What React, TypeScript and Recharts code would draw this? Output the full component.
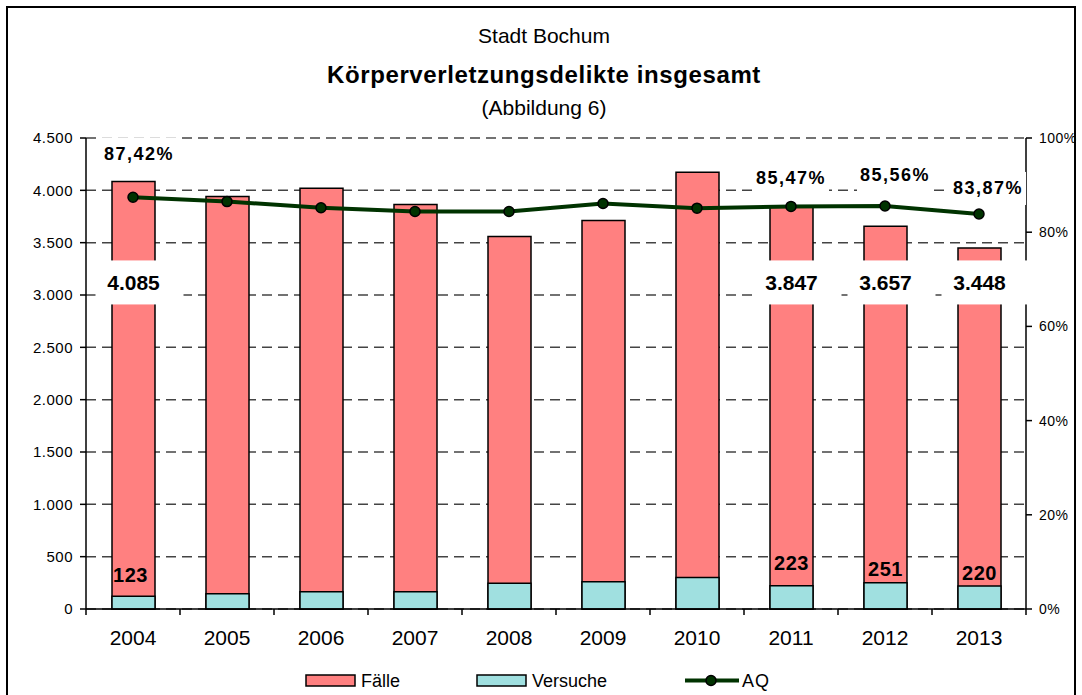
import React from 'react';
import {
  ComposedChart,
  Bar,
  Line,
  XAxis,
  YAxis,
  CartesianGrid,
  LabelList,
} from 'recharts';

const years = ['2004', '2005', '2006', '2007', '2008', '2009', '2010', '2011', '2012', '2013'];
const faelle = [4085, 3942, 4019, 3864, 3558, 3711, 4172, 3847, 3657, 3448];
const versuche = [123, 145, 165, 165, 245, 260, 300, 223, 251, 220];
const aq = [87.42, 86.5, 85.2, 84.4, 84.4, 86.1, 85.1, 85.47, 85.56, 83.87];
const labelledYears = ['2004', '2011', '2012', '2013'];
const leftTicks = [0, 500, 1000, 1500, 2000, 2500, 3000, 3500, 4000, 4500];
const rightTicks = [0, 0.2, 0.4, 0.6, 0.8, 1];

const data = years.map((year, i) => ({
  year,
  faelle: faelle[i],
  versuche: versuche[i],
  aq: aq[i] / 100,
}));

const FONT = '"Liberation Sans", Arial, sans-serif';
const RED = '#FF8080';
const CYAN = '#A0E0E0';
const GREEN = '#003300';

const de = (n: number) => n.toLocaleString('de-DE');
const pct = (n: number) => (n * 100).toFixed(2).replace('.', ',') + '%';

// vertical level (in axis units) where the big Fälle labels sit
const FAELLE_LABEL_LEVEL = 3120;
const pctOffsets: Record<number, [number, number]> = { 0: [6, -44], 7: [0, -29], 8: [10, -31], 9: [9, -26] };
const versOffsets: Record<number, [number, number]> = { 0: [-3, -21], 7: [0, -23], 8: [0, -14], 9: [0, -13] };

const box = (p: any) => p.viewBox ?? p;

const FaelleLabel = (props: any) => {
  const { index, value } = props;
  if (!labelledYears.includes(years[index])) return null;
  const vb = box(props);
  const bottom = Math.max(vb.y, vb.y + vb.height);
  const h = Math.abs(vb.height);
  const cy = bottom - h * (FAELLE_LABEL_LEVEL / value);
  const cx = vb.x + vb.width / 2;
  return (
    <g>
      <rect x={cx - 38} y={cy - 22} width={88} height={44} fill="#fff" />
      <text x={cx} y={cy} dy="0.36em" textAnchor="middle" fontFamily={FONT} fontSize={21} fontWeight="bold" fill="#000">
        {de(value)}
      </text>
    </g>
  );
};

const VersucheLabel = (props: any) => {
  const { index, value } = props;
  if (!labelledYears.includes(years[index])) return null;
  const vb = box(props);
  const top = Math.min(vb.y, vb.y + vb.height);
  const [dx, dy] = versOffsets[index] ?? [0, -18];
  return (
    <text x={vb.x + vb.width / 2 + dx} y={top + dy} dy="0.36em" textAnchor="middle" fontFamily={FONT} fontSize={20} fontWeight="bold" letterSpacing={0.5} fill="#000">
      {value}
    </text>
  );
};

const AqLabel = (props: any) => {
  const { index, value } = props;
  if (!labelledYears.includes(years[index])) return null;
  const vb = box(props);
  const [dx, dy] = pctOffsets[index] ?? [0, -30];
  const cx = vb.x + dx;
  const cy = vb.y + dy;
  return (
    <g>
      <rect x={cx - 38} y={cy - 16} width={76} height={33} fill="#fff" />
      <text x={cx} y={cy} dy="0.36em" textAnchor="middle" fontFamily={FONT} fontSize={18} fontWeight="bold" letterSpacing={1.5} fill="#000">
        {pct(value)}
      </text>
    </g>
  );
};

const YearTick = (props: any) => {
  const { x, y, payload, index, visibleTicksCount } = props;
  const half = payload?.offset || 47;
  const last = index === (visibleTicksCount ?? years.length) - 1;
  return (
    <g>
      <line x1={x - half} x2={x - half} y1={y} y2={y + 6} stroke="#000" strokeWidth={1.5} />
      {last && <line x1={x + half} x2={x + half} y1={y} y2={y + 6} stroke="#000" strokeWidth={1.5} />}
      <text x={x} y={y + 36} textAnchor="middle" fontFamily={FONT} fontSize={21} fill="#000">
        {payload.value}
      </text>
    </g>
  );
};

function Overlay() {
  return (
    <svg width={1082} height={695} style={{ position: 'absolute', left: 0, top: 0, pointerEvents: 'none' }}>
      <g fontFamily={FONT} fill="#000" textAnchor="middle">
        <text x={544} y={43} fontSize={21}>Stadt Bochum</text>
        <text x={544} y={83} fontSize={24} fontWeight="bold" letterSpacing={0.6}>Körperverletzungsdelikte insgesamt</text>
        <text x={544} y={115} fontSize={21}>(Abbildung 6)</text>
      </g>
      <g fontFamily={FONT} fontSize={18} fill="#000">
        <rect x={306} y={675} width={49} height={11} fill={RED} stroke="#000" strokeWidth={1.5} />
        <text x={361} y={687}>Fälle</text>
        <rect x={477} y={675} width={49} height={11} fill={CYAN} stroke="#000" strokeWidth={1.5} />
        <text x={532} y={687}>Versuche</text>
        <line x1={685} x2={739} y1={680.5} y2={680.5} stroke={GREEN} strokeWidth={4} />
        <circle cx={711} cy={680.5} r={5} fill={GREEN} stroke="#000" strokeWidth={1.5} />
        <text x={742} y={687} letterSpacing={1}>AQ</text>
      </g>
    </svg>
  );
}

export default function App() {
  return (
    <div style={{ position: 'absolute', left: 0, top: 0, width: 1082, height: 695, overflow: 'hidden', background: '#fff' }}>
      <div style={{ position: 'absolute', left: 6, top: 6, width: 1070, height: 760, border: '2px solid #000', boxSizing: 'border-box' }} />
      <ComposedChart width={1082} height={695} data={data} margin={{ top: 138, right: 0, bottom: 36, left: 26 }}>
        <CartesianGrid yAxisId="left" xAxisId="main" vertical={false} stroke="#444" strokeWidth={1.5} strokeDasharray="10 6" />
        <XAxis
          xAxisId="main"
          dataKey="year"
          height={50}
          tickSize={0}
          tickMargin={0}
          tickLine={false}
          axisLine={{ stroke: '#000', strokeWidth: 1.5 }}
          tick={<YearTick />}
          interval={0}
        />
        <XAxis xAxisId="vers" dataKey="year" hide />
        <YAxis
          yAxisId="left"
          orientation="left"
          width={60}
          domain={[0, 4500]}
          ticks={leftTicks}
          interval={0}
          tickFormatter={de}
          tickSize={6}
          tickMargin={7}
          tickLine={{ stroke: '#000', strokeWidth: 1.5 }}
          axisLine={{ stroke: '#000', strokeWidth: 1.5 }}
          tick={{ fill: '#000', fontSize: 15, fontFamily: FONT, letterSpacing: 0.5 }}
        />
        <YAxis
          yAxisId="right"
          orientation="right"
          width={56}
          domain={[0, 1]}
          ticks={rightTicks}
          interval={0}
          tickFormatter={(v: number) => Math.round(v * 100) + '%'}
          tickSize={6}
          tickMargin={7}
          tickLine={{ stroke: '#000', strokeWidth: 1.5 }}
          axisLine={{ stroke: '#000', strokeWidth: 1.5 }}
          tick={{ fill: '#000', fontSize: 14, fontFamily: FONT, letterSpacing: 0.5 }}
        />
        <Bar xAxisId="main" yAxisId="left" dataKey="faelle" name="Fälle" fill={RED} stroke="#000" strokeWidth={1.5} barSize={43} isAnimationActive={false}>
          <LabelList dataKey="faelle" content={FaelleLabel} />
        </Bar>
        <Bar xAxisId="vers" yAxisId="left" dataKey="versuche" name="Versuche" fill={CYAN} stroke="#000" strokeWidth={1.5} barSize={43} isAnimationActive={false}>
          <LabelList dataKey="versuche" content={VersucheLabel} />
        </Bar>
        <Line
          xAxisId="main"
          yAxisId="right"
          dataKey="aq"
          name="AQ"
          type="linear"
          stroke={GREEN}
          strokeWidth={4}
          dot={{ r: 5, fill: GREEN, stroke: '#000', strokeWidth: 1.5 }}
          isAnimationActive={false}
        >
          <LabelList dataKey="aq" content={AqLabel} />
        </Line>
      </ComposedChart>
      <Overlay />
    </div>
  );
}
